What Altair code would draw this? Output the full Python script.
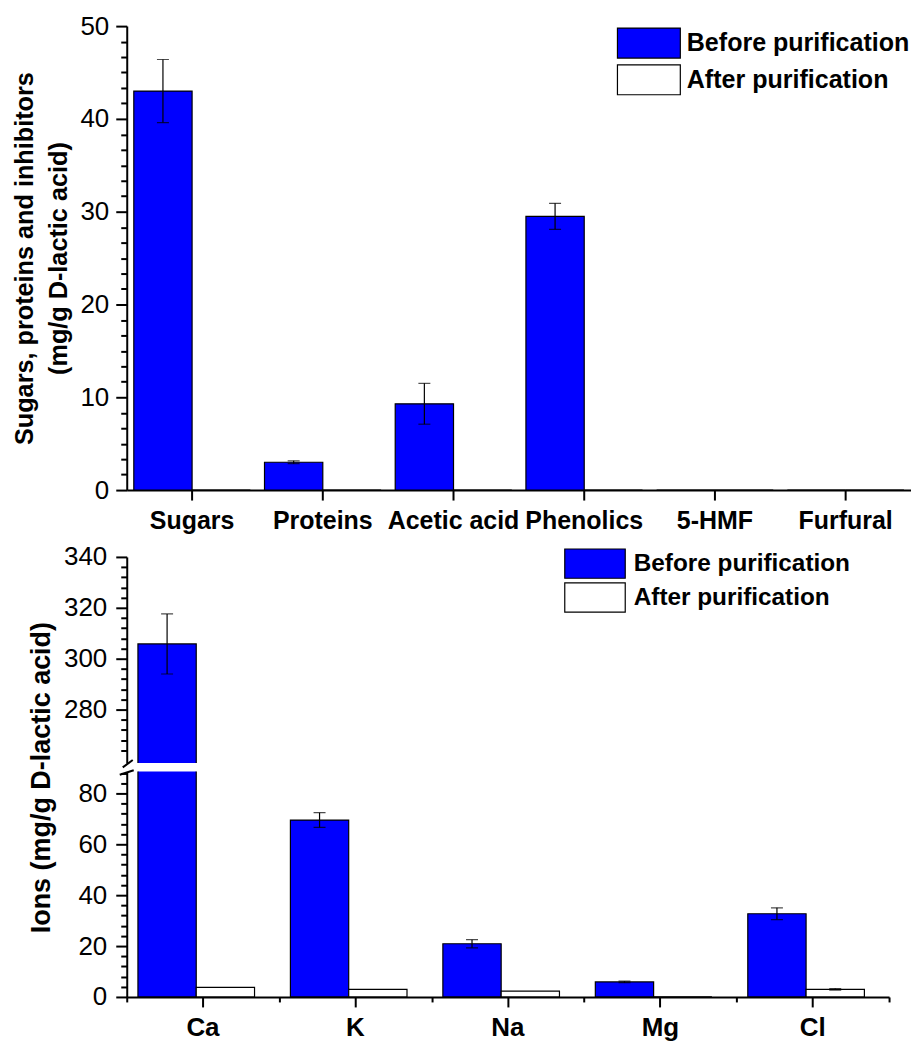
import math
import altair as alt
import pandas as pd

# ---------------- data ----------------
top_categories = ["Sugars", "Proteins", "Acetic acid", "Phenolics", "5-HMF", "Furfural"]
top_before = [43.0, 3.0, 9.3, 29.5, 0.0, 0.0]
top_before_err = [3.4, 0.15, 2.2, 1.4, 0.0, 0.0]
top_after = [0.0, 0.0, 0.0, 0.0, 0.0, 0.0]
top_after_err = [0.0, 0.0, 0.0, 0.0, 0.0, 0.0]

ion_categories = ["Ca", "K", "Na", "Mg", "Cl"]
ion_before = [305.8, 69.5, 20.9, 5.9, 32.7]
ion_before_err = [11.8, 2.9, 1.6, 0.3, 2.3]
ion_after = [3.8, 3.0, 2.3, 0.0, 3.0]
ion_after_err = [0.0, 0.0, 0.0, 0.0, 0.3]

series_names = ["Before purification", "After purification"]
series_fill = ["#0000FF", "#FFFFFF"]

top_y_domain = [0, 50]
ion_low_domain = [0, 88.6]
ion_high_domain = [259, 340]
break_high_marks = [257.3, 260.2]
break_low_marks = [87.3, 89.1]

top_y_title = ["Sugars, proteins and inhibitors", "(mg/g D-lactic acid)"]
ion_y_title = "Ions (mg/g D-lactic acid)"

FONT = "Liberation Sans"


def long_table(cats, before, before_err, after, after_err):
    rows = []
    for name, vals, errs in ((series_names[0], before, before_err),
                             (series_names[1], after, after_err)):
        for c, v, e in zip(cats, vals, errs):
            rows.append({"cat": c, "series": name, "value": v, "err": e,
                         "lo": v - e, "hi": v + e})
    return pd.DataFrame(rows)


top_df = long_table(top_categories, top_before, top_before_err, top_after, top_after_err)
ion_df = long_table(ion_categories, ion_before, ion_before_err, ion_after, ion_after_err)


def major_test(step):
    return f"abs(datum.value / {step} - round(datum.value / {step})) < 0.001"


def y_axis(values, step, title=None, title_size=25, title_y=None, line_height=None,
           label_pad=8, title_pad=8):
    test = major_test(step)
    kw = dict(
        values=values,
        labelExpr=f"({test}) ? format(datum.value, 'd') : ''",
        tickSize={"condition": {"test": test, "value": 11}, "value": 6},
        tickWidth=2, tickColor="black",
        domainColor="black", domainWidth=2,
        labelFont=FONT, labelFontSize=26, labelColor="black",
        labelPadding=label_pad, labelOverlap=False, labelBound=False,
        grid=False,
    )
    if title is None:
        kw["title"] = None
    else:
        kw.update(title=title, titleFont=FONT, titleFontSize=title_size,
                  titleFontWeight="bold", titleColor="black", titlePadding=title_pad)
        if title_y is not None:
            kw["titleY"] = title_y
        if line_height is not None:
            kw["titleLineHeight"] = line_height
    return alt.Axis(**kw)


def x_axis(label_size, label_pad):
    return alt.Axis(title=None, labelAngle=0, labelFont=FONT, labelFontSize=label_size,
                    labelFontWeight="bold", labelColor="black", labelPadding=label_pad,
                    tickSize=10, tickWidth=2, tickColor="black",
                    domainColor="black", domainWidth=2, grid=False)


def legend(x, y, w, h, font_size, gap, row_pad, stroke_w=1.2):
    s = w / 2.0
    a = h / s
    size_px = max(math.ceil(s + 2 * stroke_w), font_size)
    sym_off = s - size_px / 2.0
    return alt.Legend(
        orient="none", legendX=x, legendY=y, title=None, padding=0,
        symbolType=f"M-2,{-a:.4f}H2V{a:.4f}H-2Z",
        symbolSize=s * s,
        symbolOffset=sym_off,
        symbolStrokeColor="black", symbolStrokeWidth=stroke_w, symbolOpacity=1,
        labelOffset=w + gap - size_px - sym_off,
        rowPadding=row_pad,
        labelFont=FONT, labelFontSize=font_size, labelFontWeight="bold",
        labelColor="black", labelLimit=0,
    )


def bar_layers(df, x_enc, y_scale, y_ax, leg, breaks=None, brk_x=(-6, 6)):
    off = alt.XOffset("series:N", scale=alt.Scale(domain=series_names, paddingInner=0, paddingOuter=0))
    fill_scale = alt.Scale(domain=series_names, range=series_fill)
    bars = alt.Chart(df).mark_bar(stroke="black", strokeWidth=1.2, clip=True).encode(
        x=x_enc, xOffset=off,
        y=alt.Y("value:Q", scale=y_scale, axis=y_ax),
        y2=alt.datum(0),
        fill=alt.Fill("series:N", scale=fill_scale, legend=leg),
    )
    err = alt.Chart(df).transform_filter("datum.err > 0")
    rule = err.mark_rule(color="black", strokeWidth=1.2, clip=True).encode(
        x=x_enc, xOffset=off,
        y=alt.Y("lo:Q", scale=y_scale, axis=y_ax), y2="hi:Q")
    cap_lo = err.mark_tick(color="black", thickness=1.2, size=12, clip=True).encode(
        x=x_enc, xOffset=off, y=alt.Y("lo:Q", scale=y_scale, axis=y_ax))
    cap_hi = err.mark_tick(color="black", thickness=1.2, size=12, clip=True).encode(
        x=x_enc, xOffset=off, y=alt.Y("hi:Q", scale=y_scale, axis=y_ax))
    layers = [bars, rule, cap_lo, cap_hi]
    if breaks is not None:
        brk = pd.DataFrame({"y1": [breaks[0]], "y2": [breaks[1]]})
        slash = alt.Chart(brk).mark_rule(color="black", strokeWidth=2, clip=False).encode(
            x=alt.value(brk_x[0]), x2=alt.value(brk_x[1]),
            y=alt.Y("y1:Q", scale=y_scale, axis=y_ax), y2="y2:Q")
        layers.append(slash)
    return alt.layer(*layers)


TOP_W = 786
ION_W = 764

# ---------------- top panel ----------------
top_minor = [round(i * 10 / 6, 4) for i in range(31)]
top_x = alt.X("cat:N", scale=alt.Scale(domain=top_categories, paddingInner=0.108, paddingOuter=0.054),
              axis=x_axis(25, 9))
top_chart = bar_layers(
    top_df, top_x,
    alt.Scale(domain=top_y_domain, nice=False, zero=True),
    y_axis(top_minor, 10, title=top_y_title, title_size=25.3, line_height=35, label_pad=7),
    legend(492.3, 0.5, 63, 30, 25.1, 7, 1.8),
).properties(width=TOP_W, height=465)

# ---------------- ions, upper segment ----------------
ion_x_scale = alt.Scale(domain=ion_categories, paddingInner=0.147, paddingOuter=0.0735)
high_ticks = list(range(264, 341, 4))
low_ticks = list(range(0, 89, 4))

high_h = 206.6
low_h = 226

ion_high = bar_layers(
    ion_df, alt.X("cat:N", scale=ion_x_scale, axis=None),
    alt.Scale(domain=ion_high_domain, nice=False, zero=False),
    y_axis(high_ticks, 20, title=ion_y_title, title_size=27, title_y=220.7, label_pad=9),
    legend(439.5, -9.3, 60.6, 29.3, 24.4, 9, -3),
    breaks=break_high_marks, brk_x=(-4, 6),
).properties(width=ION_W, height=high_h)

# ---------------- ions, lower segment ----------------
ion_low_core = bar_layers(
    ion_df, alt.X("cat:N", scale=ion_x_scale, axis=x_axis(26, 8)),
    alt.Scale(domain=ion_low_domain, nice=False, zero=True),
    y_axis(low_ticks, 20, label_pad=9),
    None,
    breaks=break_low_marks, brk_x=(-7, 7),
)
minor_x = alt.Chart(pd.DataFrame({"cat": ion_categories})).mark_bar(opacity=0).encode(
    x=alt.X("cat:N", scale=alt.Scale(type="band", domain=ion_categories, paddingInner=0, paddingOuter=0),
            axis=alt.Axis(orient="bottom", tickBand="extent", labels=False, domain=False,
                          tickSize=5, tickWidth=2, tickColor="black", title=None, grid=False)))
ion_low = alt.layer(ion_low_core, minor_x).resolve_scale(x="independent").properties(
    width=ION_W, height=low_h)

ions = alt.vconcat(ion_high, ion_low, spacing=8, bounds="flush").resolve_scale(fill="independent")

chart = alt.vconcat(top_chart, ions, spacing=67, bounds="flush").resolve_scale(
    fill="independent").properties(
    padding={"top": 4, "left": 4, "right": 0, "bottom": 0}
).configure_view(stroke=None)

chart.save("out.html", embed_options={"renderer": "svg", "actions": False})
